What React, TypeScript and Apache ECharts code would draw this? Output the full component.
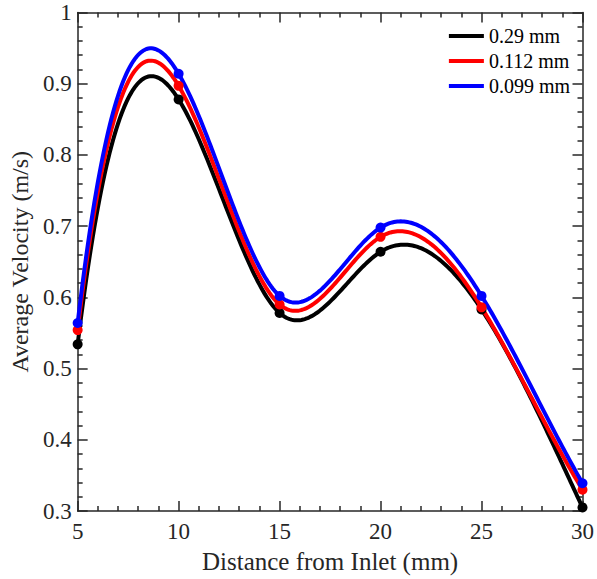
import React, { useEffect, useRef } from "react";
import * as echarts from "echarts";

const xValues = [5, 10, 15, 20, 25, 30];
const seriesNames = ["0.29 mm", "0.112 mm", "0.099 mm"];
const vel029 = [0.534, 0.878, 0.578, 0.664, 0.583, 0.305];
const vel0112 = [0.554, 0.897, 0.59, 0.685, 0.586, 0.33];
const vel0099 = [0.564, 0.914, 0.602, 0.698, 0.602, 0.339];
const seriesColors = ["#000000", "#ff0000", "#0000ff"];
const xTicks = [5, 10, 15, 20, 25, 30];
const yTicks = [0.3, 0.4, 0.5, 0.6, 0.7, 0.8, 0.9, 1];

const FONT = "Liberation Serif";
const AXIS_COLOR = "#262626";

// MATLAB-style not-a-knot cubic spline through the data points (rendering only)
function splineSecondDerivs(xs: number[], ys: number[]): number[] {
  const n = xs.length;
  const h: number[] = [];
  for (let i = 0; i < n - 1; i++) h.push(xs[i + 1] - xs[i]);
  const A: number[][] = [];
  const b: number[] = [];
  for (let i = 0; i < n; i++) {
    A.push(new Array(n).fill(0));
    b.push(0);
  }
  A[0][0] = -h[1];
  A[0][1] = h[0] + h[1];
  A[0][2] = -h[0];
  for (let i = 1; i < n - 1; i++) {
    A[i][i - 1] = h[i - 1];
    A[i][i] = 2 * (h[i - 1] + h[i]);
    A[i][i + 1] = h[i];
    b[i] = 6 * ((ys[i + 1] - ys[i]) / h[i] - (ys[i] - ys[i - 1]) / h[i - 1]);
  }
  A[n - 1][n - 3] = -h[n - 2];
  A[n - 1][n - 2] = h[n - 3] + h[n - 2];
  A[n - 1][n - 1] = -h[n - 3];
  for (let c = 0; c < n; c++) {
    let p = c;
    for (let r = c + 1; r < n; r++) if (Math.abs(A[r][c]) > Math.abs(A[p][c])) p = r;
    [A[c], A[p]] = [A[p], A[c]];
    [b[c], b[p]] = [b[p], b[c]];
    for (let r = c + 1; r < n; r++) {
      const f = A[r][c] / A[c][c];
      for (let k = c; k < n; k++) A[r][k] -= f * A[c][k];
      b[r] -= f * b[c];
    }
  }
  const M = new Array(n).fill(0);
  for (let r = n - 1; r >= 0; r--) {
    let s = b[r];
    for (let k = r + 1; k < n; k++) s -= A[r][k] * M[k];
    M[r] = s / A[r][r];
  }
  return M;
}

function splineCurve(xs: number[], ys: number[], steps: number): number[][] {
  const M = splineSecondDerivs(xs, ys);
  const out: number[][] = [];
  for (let i = 0; i < xs.length - 1; i++) {
    const h = xs[i + 1] - xs[i];
    for (let s = 0; s <= steps; s++) {
      if (i > 0 && s === 0) continue;
      const x = xs[i] + (h * s) / steps;
      const a = xs[i + 1] - x;
      const c = x - xs[i];
      const y =
        (M[i] * a * a * a) / (6 * h) +
        (M[i + 1] * c * c * c) / (6 * h) +
        (ys[i] / h - (M[i] * h) / 6) * a +
        (ys[i + 1] / h - (M[i + 1] * h) / 6) * c;
      out.push([x, y]);
    }
  }
  return out;
}

export default function App() {
  const ref = useRef<HTMLDivElement>(null);
  useEffect(() => {
    if (!ref.current) return;
    const chart = echarts.init(ref.current, null, { renderer: "svg" });
    const allVals = [vel029, vel0112, vel0099];
    const series: any[] = [];
    allVals.forEach((vals, si) => {
      const color = seriesColors[si];
      const curve = splineCurve(xValues, vals, 60);
      series.push({
        name: seriesNames[si],
        type: "custom",
        itemStyle: { color },
        data: xValues.map((x, i) => [x, vals[i]]),
        encode: { x: 0, y: 1 },
        renderItem: (params: any, api: any) => {
          if (params.dataIndex !== 0) return null;
          const pts = curve.map((p) => api.coord(p));
          return {
            type: "polyline",
            shape: { points: pts },
            style: { stroke: color, lineWidth: 4, fill: null },
          };
        },
      });
      series.push({
        name: seriesNames[si],
        type: "scatter",
        data: xValues.map((x, i) => [x, vals[i]]),
        symbol: "circle",
        symbolSize: 10,
        itemStyle: { color, opacity: 1 },
      });
    });

    const axisCommon = {
      axisLine: { show: true, lineStyle: { color: AXIS_COLOR, width: 1.5 } },
      axisTick: { show: true, inside: true, length: 10, lineStyle: { color: AXIS_COLOR, width: 1.5 } },
      minorTick: { show: true, splitNumber: 5, length: 5, lineStyle: { color: AXIS_COLOR, width: 1.5 } },
      splitLine: { show: false },
    };

    chart.setOption({
      animation: false,
      grid: { left: 76.5, right: 12, top: 12.5, bottom: 68 },
      legend: {
        orient: "vertical",
        right: 22,
        top: 21,
        itemWidth: 35,
        itemHeight: 4,
        itemGap: 5,
        icon: "rect",
        data: seriesNames,
        textStyle: { fontFamily: FONT, fontSize: 20, color: "#000" },
      },
      xAxis: [
        {
          type: "value",
          min: xTicks[0],
          max: xTicks[xTicks.length - 1],
          interval: 5,
          ...axisCommon,
          axisLabel: { fontFamily: FONT, fontSize: 23, color: AXIS_COLOR, margin: 9 },
          name: "Distance from Inlet (mm)",
          nameLocation: "middle",
          nameGap: 38,
          nameTextStyle: { fontFamily: FONT, fontSize: 25, color: AXIS_COLOR },
        },
        {
          type: "value",
          position: "top",
          min: xTicks[0],
          max: xTicks[xTicks.length - 1],
          interval: 5,
          ...axisCommon,
          axisLabel: { show: false },
        },
      ],
      yAxis: [
        {
          type: "value",
          min: yTicks[0],
          max: yTicks[yTicks.length - 1],
          interval: 0.1,
          ...axisCommon,
          axisLabel: {
            fontFamily: FONT,
            fontSize: 23,
            color: AXIS_COLOR,
            margin: 6,
            formatter: (v: number) => String(+v.toFixed(1)),
          },
          name: "Average Velocity (m/s)",
          nameLocation: "middle",
          nameGap: 42,
          nameTextStyle: { fontFamily: FONT, fontSize: 24, color: AXIS_COLOR },
        },
        {
          type: "value",
          position: "right",
          min: yTicks[0],
          max: yTicks[yTicks.length - 1],
          interval: 0.1,
          ...axisCommon,
          axisLabel: { show: false },
        },
      ],
      series,
    });
    return () => chart.dispose();
  }, []);
  return <div ref={ref} style={{ width: 597, height: 579, position: "absolute", left: 0, top: 0 }} />;
}
